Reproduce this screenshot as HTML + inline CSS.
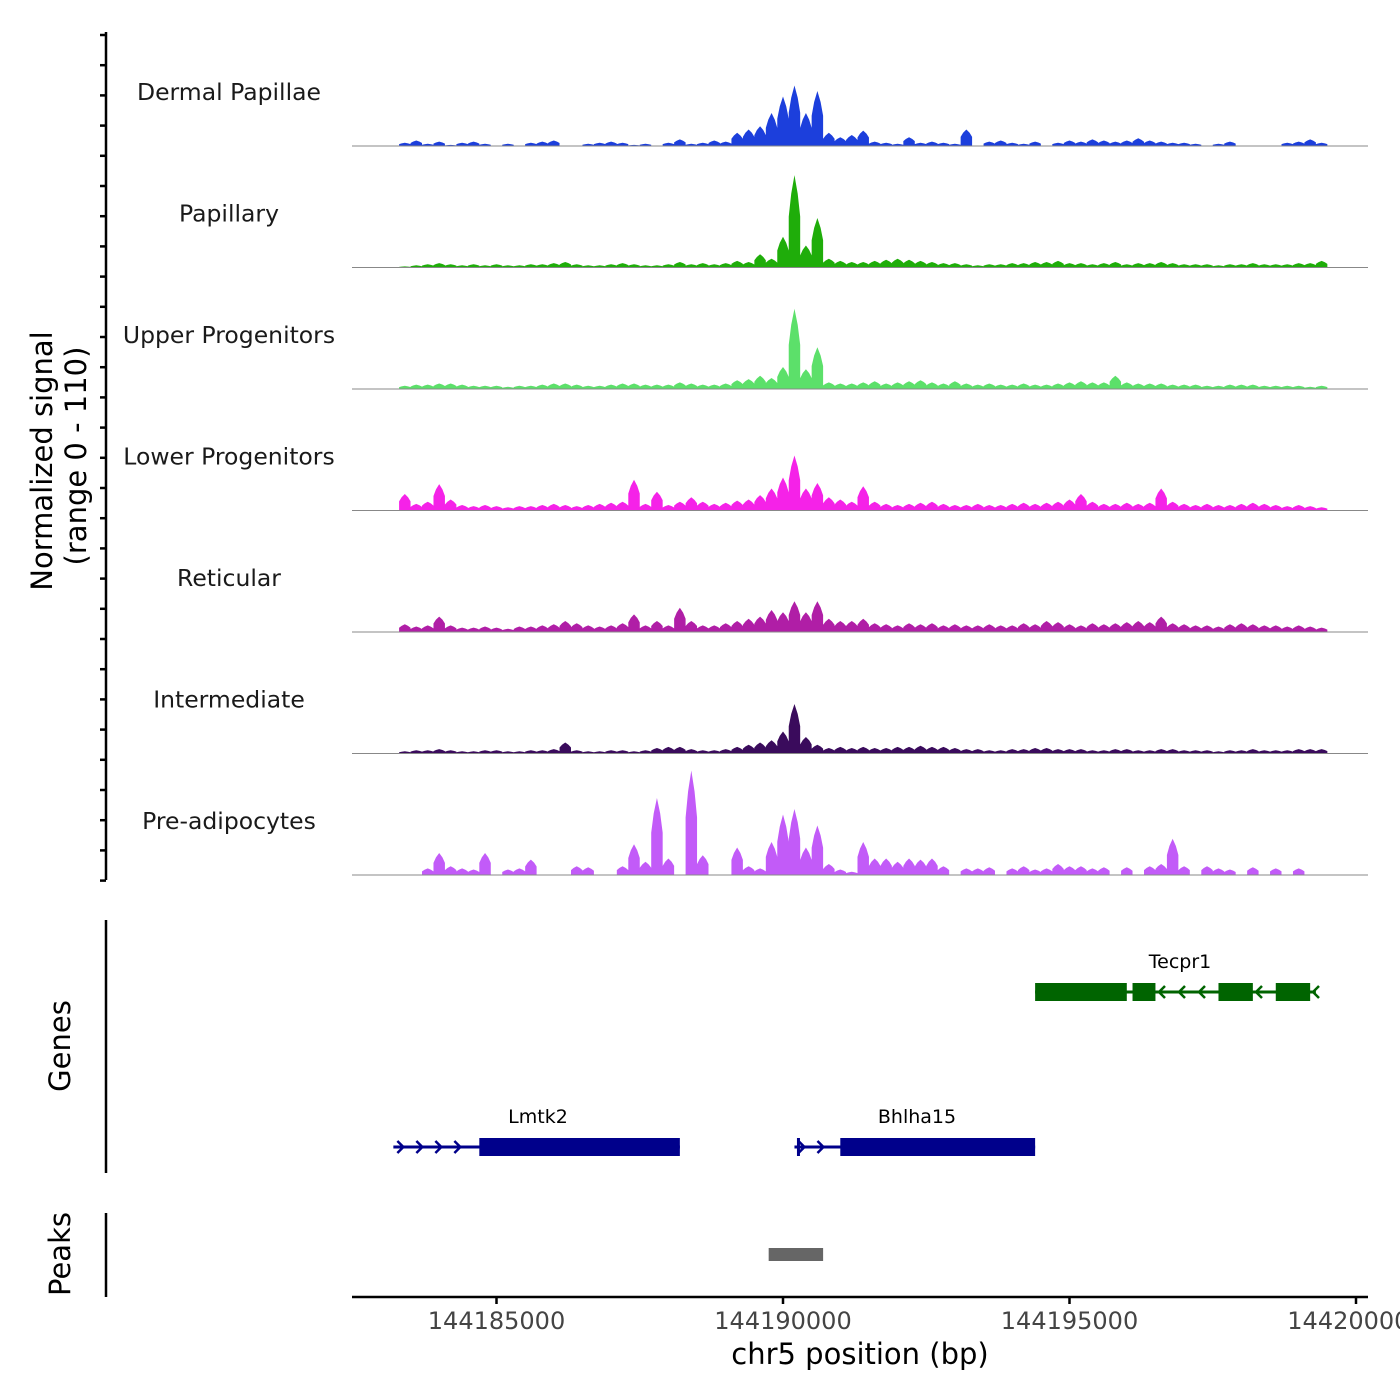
<!DOCTYPE html>
<html><head><meta charset="utf-8"><style>
body{margin:0;background:#fff}
svg{display:block;font-family:"DejaVu Sans","Liberation Sans",sans-serif}
</style></head><body>
<svg id="chart" width="1400" height="1400" viewBox="0 0 1400 1400" xmlns="http://www.w3.org/2000/svg">
<g id="tracks"></g>
<g id="ylab">
<line x1="106" y1="32" x2="106" y2="880" stroke="#000" stroke-width="2.5"/>
<text transform="translate(52,461) rotate(-90)" text-anchor="middle" font-size="29">Normalized signal</text>
<text transform="translate(86,456) rotate(-90)" text-anchor="middle" font-size="29">(range 0 - 110)</text>
<line x1="106" y1="920" x2="106" y2="1173" stroke="#000" stroke-width="2.5"/>
<text transform="translate(70,1046) rotate(-90)" text-anchor="middle" font-size="29">Genes</text>
<line x1="106" y1="1213" x2="106" y2="1297" stroke="#000" stroke-width="2.5"/>
<text transform="translate(70,1254) rotate(-90)" text-anchor="middle" font-size="29">Peaks</text>
</g>
<g id="genes"></g>
<g id="xaxis">
<line x1="352" y1="1297" x2="1368" y2="1297" stroke="#000" stroke-width="2.5"/>
<text x="860" y="1364" text-anchor="middle" font-size="29">chr5 position (bp)</text>
</g>
</svg>
<script>
const trackNames=["Dermal Papillae","Papillary","Upper Progenitors","Lower Progenitors","Reticular","Intermediate","Pre-adipocytes"];
const trackColors=["#1c3fdc","#1fad0a","#5ce06a","#f522e8","#b01ea6","#3a0b5c","#c25bf8"];
const binStart=144183300, binSize=200;
const dermal=[3,5,2,4,1,3,4,2,0,2,0,3,4,5,0,0,2,3,4,3,1,2,0,3,6,2,3,5,4,12,15,18,30,45,55,30,50,12,8,10,14,4,3,2,8,3,4,3,2,15,0,4,5,3,2,4,0,3,5,4,6,5,4,5,7,5,4,3,3,2,0,2,4,0,0,0,0,3,4,6,3];
const papillary=[1,2,3,4,3,2,3,2,3,2,2,3,3,4,5,3,2,2,3,4,3,2,2,3,5,3,4,3,4,6,5,12,8,28,84,20,45,8,6,5,5,6,7,8,7,6,5,4,4,3,2,3,3,4,4,5,5,6,4,4,3,4,5,3,4,4,5,4,3,3,3,2,3,3,4,3,3,3,4,4,6];
const upper=[3,4,4,5,5,4,3,3,3,2,3,3,4,5,5,4,3,3,4,5,5,4,4,4,6,5,4,4,5,8,9,12,10,20,73,18,38,6,5,5,6,7,5,6,7,8,6,5,7,5,4,5,4,4,5,4,4,5,6,7,6,6,12,6,5,5,5,4,4,4,3,3,4,4,4,3,3,3,3,2,3];
const lower=[15,6,8,24,10,5,4,5,4,3,4,4,5,6,5,4,5,6,7,8,28,6,17,5,8,12,8,6,7,9,10,14,20,30,50,20,25,12,10,8,22,8,6,5,6,7,8,6,5,5,6,5,5,6,7,6,7,8,10,15,8,6,6,7,6,7,20,8,6,5,6,5,5,6,7,6,5,4,5,4,3];
const reticular=[7,5,6,14,6,4,4,5,4,3,5,5,6,7,10,8,6,5,6,8,16,6,10,6,22,10,6,6,8,10,12,14,20,18,28,18,28,12,10,10,12,8,7,6,8,7,8,6,7,6,6,7,6,6,8,7,10,9,7,6,8,7,8,9,10,9,14,8,7,6,6,5,7,8,7,6,6,5,6,5,4];
const intermediate=[2,3,3,4,3,2,2,3,3,2,2,3,3,4,10,3,2,2,3,3,2,3,5,6,6,4,3,3,4,6,8,10,12,20,45,15,8,5,6,5,6,5,5,6,6,7,6,6,5,4,4,3,3,4,4,5,5,4,4,4,3,3,4,4,3,3,4,4,3,3,3,2,3,3,4,3,3,3,4,4,4];
const preadipo=[0,0,6,20,8,6,5,20,0,5,6,14,0,0,0,8,7,0,0,8,28,12,70,15,0,95,18,0,0,25,8,6,30,55,60,25,45,10,5,3,30,15,15,12,15,14,15,8,0,6,6,7,0,6,8,5,6,10,8,8,6,7,0,7,0,8,10,33,8,0,8,6,5,0,7,0,6,0,6,0,0];
const trackValues=[dermal,papillary,upper,lower,reticular,intermediate,preadipo];
const xTickValues=[144185000,144190000,144195000,144200000];
const xTickLabels=["144185000","144190000","144195000","144200000"];
const genePos=[
 {name:"Lmtk2",start:144183200,end:144188200,cdsStart:144184700,strand:1,row:1},
 {name:"Bhlha15",start:144190200,end:144194400,cdsStart:144191000,strand:1,row:1},
 {name:"Tecpr1",start:144194400,end:144199300,strand:-1,row:0}];
const tecprExons=[[144194400,144196000],[144196100,144196500],[144197600,144198200],[144198600,144199200]];
const peakRanges=[[144189750,144190700]];

const NS="http://www.w3.org/2000/svg";
function X(bp){return 783+(bp-144190000)*286.5/5000;}
const trackH=121.5, base0=146, yScale=1.1;
function Y(v,i){return base0+i*trackH - v*yScale;}
function mk(tag,attrs,parent){const e=document.createElementNS(NS,tag);for(const k in attrs)e.setAttribute(k,attrs[k]);parent.appendChild(e);return e;}
const tracks=document.getElementById('tracks');
trackValues.forEach((vals,i)=>{
  const g=mk('g',{},tracks);
  
  
  const b=Y(0,i);
  let d='M'+X(binStart)+','+b;
  vals.forEach((v,j)=>{
    const x0=X(binStart+j*binSize),x1=X(binStart+(j+1)*binSize),xm=(x0+x1)/2;
    const lo=v>0?0.55:0;
    d+=' L'+x0+','+Y(v*lo,i)+' L'+(x0+2.5)+','+Y(v*0.8,i)+' L'+xm+','+Y(v,i)+' L'+(x1-2.5)+','+Y(v*0.8,i)+' L'+x1+','+Y(v*lo,i);
  });
  d+=' L'+X(binStart+vals.length*binSize)+','+b+' Z';
  const p=mk('path',{d:d,fill:trackColors[i]},g);
  
  
  const l=mk('line',{x1:352,x2:1368,y1:b,y2:b,stroke:'#888','stroke-width':1},g);
  
  
  const t=mk('text',{x:229,y:b-46,'text-anchor':'middle','font-size':23.5,fill:'#1a1a1a'},g);
  t.textContent=trackNames[i];
  
  
});
const yl=document.getElementById('ylab');
for(let k=0;k<29;k++){const y=35+k*30.2;const t=mk('line',{x1:100,x2:106,y1:y,y2:y,stroke:'#000','stroke-width':2.5},yl);
  
  }
const xa=document.getElementById('xaxis');
xTickValues.forEach((v,i)=>{
  const x=X(v);
  const t=mk('line',{x1:x,x2:x,y1:1297,y2:1304,stroke:'#000','stroke-width':2.5},xa);
  
  
  const lb=mk('text',{x:x,y:1329,'text-anchor':'middle','font-size':24,fill:'#444'},xa);
  lb.textContent=xTickLabels[i];
  
  
});
const gg=document.getElementById('genes');
const rowY=[992,1147], rowCol=["#006400","#00008b"];
genePos.forEach(gn=>{
  const g=mk('g',{},gg);
  
  
  const y=rowY[gn.row],c=rowCol[gn.row];
  mk('line',{x1:X(gn.start),x2:X(gn.end),y1:y,y2:y,stroke:c,'stroke-width':3},g);
  const exons=gn.strand>0?[[gn.cdsStart,gn.end]]:tecprExons;
  exons.forEach(e=>mk('rect',{x:X(e[0]),y:y-9,width:X(e[1])-X(e[0]),height:18,fill:c},g));
  const s=X(gn.start), e0=gn.strand>0?X(gn.cdsStart):X(gn.end);
  if(gn.strand>0){for(let x=s+4;x<e0-8;x+=19){mk('path',{d:`M${x},${y-6} L${x+6},${y} L${x},${y+6}`,stroke:c,fill:'none','stroke-width':2.5},g);}}
  else{[1165,1185,1205,1262,1319].forEach(x=>mk('path',{d:`M${x},${y-6} L${x-6},${y} L${x},${y+6}`,stroke:c,fill:'none','stroke-width':2.5},g));}
  if(gn.name==="Bhlha15")mk('line',{x1:X(gn.start)+4,x2:X(gn.start)+4,y1:y-9,y2:y+9,stroke:c,'stroke-width':3},g);
  const lx=gn.name==="Tecpr1"?1180:(gn.name==="Lmtk2"?538:917);
  const t=mk('text',{x:lx,y:y-24,'text-anchor':'middle','font-size':19,fill:'#000'},g);
  t.textContent=gn.name;
});
peakRanges.forEach(r=>{const p=mk('rect',{x:X(r[0]),y:1248,width:X(r[1])-X(r[0]),height:13,fill:'#666'},gg);
  
  });
</script>
</body></html>
